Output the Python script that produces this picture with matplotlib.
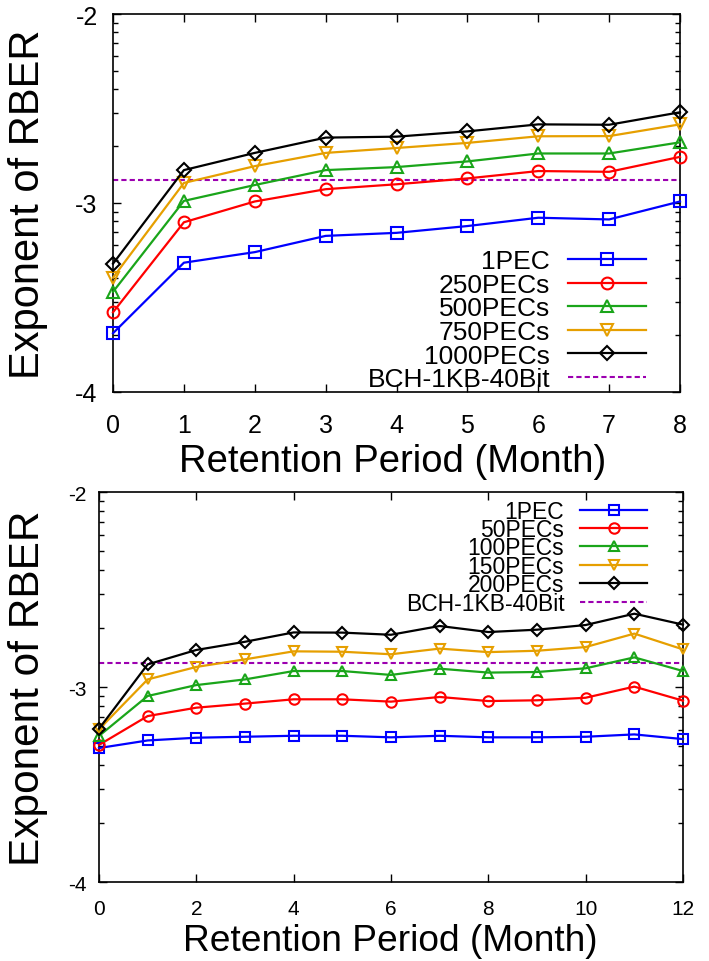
import numpy as np
import matplotlib
matplotlib.use('Agg')
import matplotlib.pyplot as plt
from matplotlib.ticker import LogLocator, NullFormatter, FixedLocator

plt.rcParams['font.family'] = ['Liberation Sans', 'DejaVu Sans']

# top panel: exponent of RBER vs retention months (0..8)
months_a = [0, 1, 2, 3, 4, 5, 6, 7, 8]
labels_a = ['1PEC', '250PECs', '500PECs', '750PECs', '1000PECs']
pec1_a = [-3.689, -3.316, -3.260, -3.174, -3.158, -3.122, -3.078, -3.087, -2.992]
pec250 = [-3.578, -3.102, -2.992, -2.927, -2.901, -2.870, -2.831, -2.835, -2.756]
pec500 = [-3.470, -2.989, -2.905, -2.826, -2.810, -2.780, -2.738, -2.738, -2.679]
pec750 = [-3.395, -2.894, -2.805, -2.735, -2.709, -2.682, -2.647, -2.646, -2.584]
pec1000 = [-3.321, -2.826, -2.735, -2.654, -2.649, -2.621, -2.584, -2.586, -2.520]

# bottom panel: months 0..12
months_b = list(range(13))
labels_b = ['1PEC', '50PECs', '100PECs', '150PECs', '200PECs']
pec1_b = [-3.313, -3.274, -3.260, -3.255, -3.250, -3.250, -3.258, -3.250, -3.258, -3.258, -3.255, -3.243, -3.267]
pec50 = [-3.297, -3.149, -3.106, -3.085, -3.063, -3.063, -3.075, -3.051, -3.072, -3.068, -3.055, -2.998, -3.070]
pec100 = [-3.251, -3.046, -2.990, -2.961, -2.918, -2.918, -2.938, -2.906, -2.926, -2.923, -2.904, -2.848, -2.918]
pec150 = [-3.217, -2.961, -2.897, -2.858, -2.817, -2.819, -2.832, -2.803, -2.821, -2.814, -2.795, -2.726, -2.807]
pec200 = [-3.214, -2.884, -2.810, -2.768, -2.720, -2.721, -2.732, -2.687, -2.718, -2.706, -2.682, -2.624, -2.680]

bch_limit = -2.877
bch_label = 'BCH-1KB-40Bit'

colors = ['#0000ff', '#ff0000', '#1aa51a', '#e69f00', '#000000']
markers = ['s', 'o', '^', 'v', 'D']


def draw_panel(ax, months, series, labels, ms, tickfs, xstep, xpad, ypad):
    for vals, lab, c, m in zip(series, labels, colors, markers):
        size = ms * 0.8 if m == 'D' else ms
        ax.plot(months, 10.0 ** np.array(vals), color=c, marker=m, markersize=size,
                markerfacecolor='none', markeredgewidth=1.5, linewidth=1.6,
                label=lab, clip_on=False, zorder=3)
    ax.axhline(10.0 ** bch_limit, color='#9c00b0', linestyle=(0, (2.5, 1.5)),
               linewidth=1.5, label=bch_label)
    ax.set_yscale('log')
    ax.set_ylim(1e-4, 1e-2)
    ax.set_xlim(months[0], months[-1])
    ax.yaxis.set_major_locator(FixedLocator([1e-4, 1e-3, 1e-2]))
    ax.set_yticklabels(['-4', '-3', '-2'])
    ax.yaxis.set_minor_locator(LogLocator(base=10, subs=np.arange(2, 10)))
    ax.yaxis.set_minor_formatter(NullFormatter())
    ax.set_xticks(np.arange(months[0], months[-1] + 1, xstep))
    ax.tick_params(which='both', direction='in', top=True, right=True,
                   labelsize=tickfs, width=1)
    ax.tick_params(which='major', length=6)
    ax.tick_params(which='minor', length=3.5)
    ax.tick_params(axis='x', which='major', pad=xpad)
    ax.tick_params(axis='y', which='major', pad=ypad)
    for sp in ax.spines.values():
        sp.set_linewidth(1.2)
    ax.set_xlabel('Retention Period (Month)')
    ax.set_ylabel('Exponent of RBER')


fig = plt.figure(figsize=(7.09, 9.62), dpi=100)

ax1 = fig.add_axes([0.1594, 0.5915, 0.7997, 0.3929])
draw_panel(ax1, months_a, [pec1_a, pec250, pec500, pec750, pec1000], labels_a,
           8.5, 18, 1, 15, 11)
ax1.xaxis.label.set_fontsize(27.5)
ax1.yaxis.label.set_fontsize(30)
ax1.xaxis.set_label_coords(0.494, -0.135)
ax1.yaxis.set_label_coords(-0.115, 0.5)
ax1.legend(loc='center right', bbox_to_anchor=(0.94, 0.19), frameon=False,
           markerfirst=False, fontsize=19, handlelength=2.95, handletextpad=0.68,
           labelspacing=-0.015, borderpad=0, borderaxespad=0)

ax2 = fig.add_axes([0.1396, 0.0821, 0.8237, 0.4054])
draw_panel(ax2, months_b, [pec1_b, pec50, pec100, pec150, pec200], labels_b,
           7.5, 15, 2, 12, 9)
ax2.xaxis.label.set_fontsize(26.7)
ax2.yaxis.label.set_fontsize(30.5)
ax2.xaxis.set_label_coords(0.498, -0.106)
ax2.yaxis.set_label_coords(-0.087, 0.5)
ax2.legend(loc='center right', bbox_to_anchor=(0.938, 0.833), frameon=False,
           markerfirst=False, fontsize=16.5, handlelength=2.9, handletextpad=0.7,
           labelspacing=-0.2, borderpad=0, borderaxespad=0)

fig.savefig('out.png', dpi=100)
